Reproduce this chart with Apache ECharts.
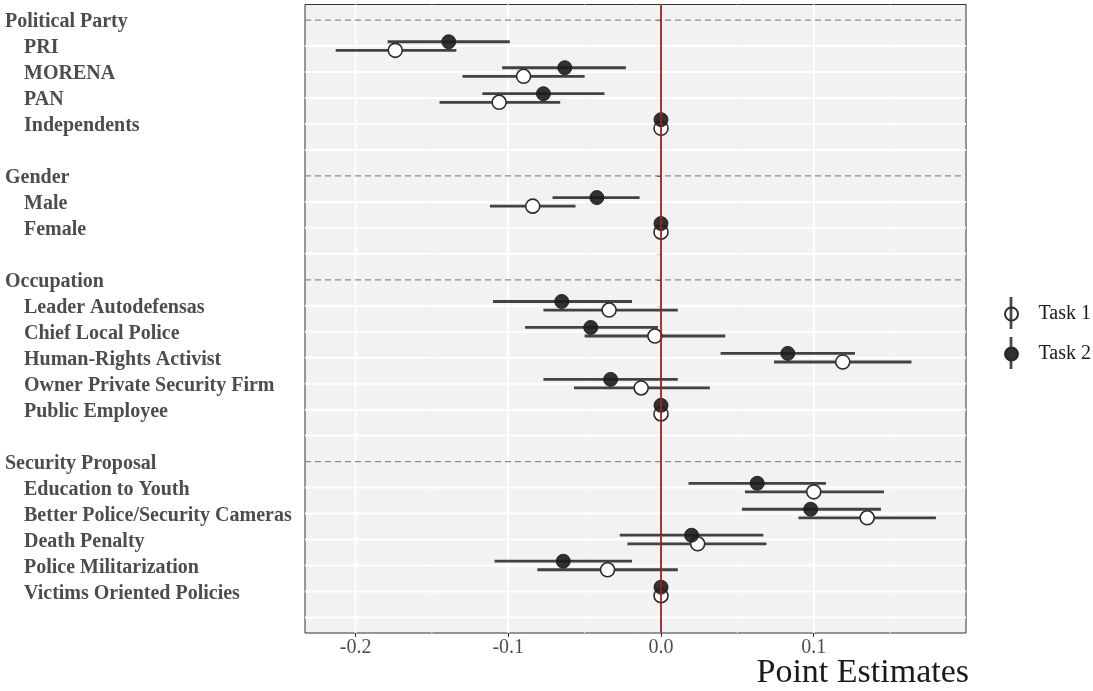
<!DOCTYPE html>
<html><head><meta charset="utf-8">
<script src="https://cdn.jsdelivr.net/npm/echarts@6/dist/echarts.min.js"></script>
<style>html,body{margin:0;padding:0;background:#fff}#c{width:1093px;height:691px}</style>
</head><body><div id="c"></div>
<script>
// Rows from top to bottom ('' = spacer row)
const rows = ['Political Party','PRI','MORENA','PAN','Independents','',
  'Gender','Male','Female','',
  'Occupation','Leader Autodefensas','Chief Local Police','Human-Rights Activist','Owner Private Security Firm','Public Employee','',
  'Security Proposal','Education to Youth','Better Police/Security Cameras','Death Penalty','Police Militarization','Victims Oriented Policies',''];
const headerRows = ['Political Party','Gender','Occupation','Security Proposal'];

// Task 1 (open circles)
const t1Est = [null,-0.174,-0.090,-0.106,0,null, null,-0.084,0,null, null,-0.034,-0.004,0.119,-0.013,0,null, null,0.100,0.135,0.024,-0.035,0,null];
const t1Lo  = [null,-0.213,-0.130,-0.145,null,null, null,-0.112,null,null, null,-0.077,-0.050,0.074,-0.057,null,null, null,0.055,0.090,-0.022,-0.081,null,null];
const t1Hi  = [null,-0.134,-0.050,-0.066,null,null, null,-0.056,null,null, null,0.011,0.042,0.164,0.032,null,null, null,0.146,0.180,0.069,0.011,null,null];
// Task 2 (filled circles)
const t2Est = [null,-0.139,-0.063,-0.077,0,null, null,-0.042,0,null, null,-0.065,-0.046,0.083,-0.033,0,null, null,0.063,0.098,0.020,-0.064,0,null];
const t2Lo  = [null,-0.179,-0.104,-0.117,null,null, null,-0.071,null,null, null,-0.110,-0.089,0.039,-0.077,null,null, null,0.018,0.053,-0.027,-0.109,null,null];
const t2Hi  = [null,-0.099,-0.023,-0.037,null,null, null,-0.014,null,null, null,-0.019,-0.002,0.127,0.011,null,null, null,0.108,0.144,0.067,-0.019,null,null];

const xTicks = [-0.2,-0.1,0,0.1];
const xMinor = [-0.15,-0.05,0.05,0.15];
const X_MIN = -0.2331, X_MAX = 0.1997;

const N = rows.length;
const yOf = i => N - i;
const OFF = 0.165;
const yVals = rows.map((r,i)=>yOf(i));
const headerY = rows.map((r,i)=>headerRows.includes(r)?yOf(i):null).filter(v=>v!==null);
const gridY = yVals.filter(v=>!headerY.includes(v));

function ciData(lo,hi,off){
  const d=[]; rows.forEach((r,i)=>{ if(lo[i]!=null) d.push([lo[i],hi[i],yOf(i)+off]); }); return d;
}
function ptData(est,off){
  const d=[]; rows.forEach((r,i)=>{ if(est[i]!=null) d.push([est[i],yOf(i)+off]); }); return d;
}
function ciRender(params, api){
  const a = api.coord([api.value(0), api.value(2)]);
  const b = api.coord([api.value(1), api.value(2)]);
  return {type:'line', shape:{x1:a[0],y1:a[1],x2:b[0],y2:b[1]}, style:{stroke:'#333333',lineWidth:2.8,opacity:0.92}};
}
function hLine(color, width, dash){
  return function(params, api){
    const cs = params.coordSys;
    const y = api.coord([0, api.value(0)])[1];
    return {type:'line', shape:{x1:cs.x,y1:y,x2:cs.x+cs.width,y2:y}, style:{stroke:color,lineWidth:width,lineDash:dash}};
  };
}
function vLine(color, width){
  return function(params, api){
    const cs = params.coordSys;
    const x = api.coord([api.value(0), 1])[0];
    return {type:'line', shape:{x1:x,y1:cs.y,x2:x,y2:cs.y+cs.height}, style:{stroke:color,lineWidth:width}};
  };
}

const FONT = "'Liberation Serif', 'DejaVu Serif', serif";
const chart = echarts.init(document.getElementById('c'), null, {renderer:'canvas'});
chart.setOption({
  animation:false,
  backgroundColor:'#ffffff',
  grid:{left:305, right:127, top:4.5, bottom:58, show:true, backgroundColor:'#f2f2f2', borderColor:'#333333', borderWidth:1, z:0},
  title:{text:'Point Estimates', right:119, top:651, textStyle:{fontFamily:FONT, fontSize:34, fontWeight:'normal', color:'#1a1a1a'}},
  legend:{
    data:['Task 1','Task 2'], orient:'vertical', left:999, top:299,
    itemWidth:44, itemHeight:13, itemGap:20,
    textStyle:{fontFamily:FONT, fontSize:20, color:'#1a1a1a'},
    selectedMode:false
  },
  xAxis:{type:'value', min:X_MIN, max:X_MAX,
    axisLine:{show:false},
    axisTick:{show:true, customValues:xTicks, length:4, lineStyle:{color:'#333333'}},
    axisLabel:{customValues:xTicks, formatter:v=>v.toFixed(1), fontFamily:FONT, fontSize:20, color:'#4d4d4d', margin:5},
    splitLine:{show:false}
  },
  yAxis:{type:'value', min:0.4, max:24.6,
    axisLine:{show:false},
    axisTick:{show:true, customValues:yVals, length:4, lineStyle:{color:'#333333'}},
    axisLabel:{customValues:yVals, align:'left', margin:300,
      formatter:v=>{ const r = rows[N-Math.round(v)]; if(!r) return ''; return headerRows.includes(r)?'{h|'+r+'}':'{i|'+r+'}'; },
      rich:{
        h:{fontFamily:FONT, fontSize:20, fontWeight:'bold', color:'#4d4d4d', padding:[4,0,0,0]},
        i:{fontFamily:FONT, fontSize:20, fontWeight:'bold', color:'#4d4d4d', padding:[4,0,0,19]}
      }
    },
    splitLine:{show:false}
  },
  graphic:[
    {type:'line', shape:{x1:1011,y1:297,x2:1011,y2:329}, style:{stroke:'#333333',lineWidth:2.8,opacity:0.9}, z:100},
    {type:'line', shape:{x1:1011,y1:337,x2:1011,y2:369}, style:{stroke:'#333333',lineWidth:2.8,opacity:0.9}, z:100}
  ],
  series:[
    {type:'custom', name:'minorV', data:xMinor.map(v=>[v]), renderItem:vLine('#f7f7f7',1), z:1, silent:true, encode:{x:0}},
    {type:'custom', name:'gridH', data:gridY.map(v=>[v]), renderItem:hLine('#ffffff',2,null), z:1, silent:true, encode:{y:0}},
    {type:'custom', name:'gridV', data:xTicks.map(v=>[v]), renderItem:vLine('#ffffff',2), z:1, silent:true, encode:{x:0}},
    {type:'custom', name:'headers', data:headerY.map(v=>[v]), renderItem:hLine('#8c8c8c',1.3,[6,4]), z:2, silent:true, encode:{y:0}},
    {type:'custom', name:'ci1', data:ciData(t1Lo,t1Hi,-OFF), renderItem:ciRender, z:3, encode:{x:[0,1],y:2}},
    {type:'custom', name:'ci2', data:ciData(t2Lo,t2Hi,OFF), renderItem:ciRender, z:3, encode:{x:[0,1],y:2}},
    {type:'scatter', name:'Task 1', data:ptData(t1Est,-OFF), symbol:'circle', symbolSize:14, z:4,
      itemStyle:{color:'#ffffff', borderColor:'#2b2b2b', borderWidth:1.6, opacity:1}},
    {type:'scatter', name:'Task 2', data:ptData(t2Est,OFF), symbol:'circle', symbolSize:14, z:5,
      itemStyle:{color:'#1c1c1c', borderColor:'#1c1c1c', borderWidth:1, opacity:0.9}},
    {type:'custom', name:'zero', data:[[0]], renderItem:vLine('#a11d1d',1.8), z:6, silent:true, encode:{x:0}}
  ]
});
</script></body></html>
